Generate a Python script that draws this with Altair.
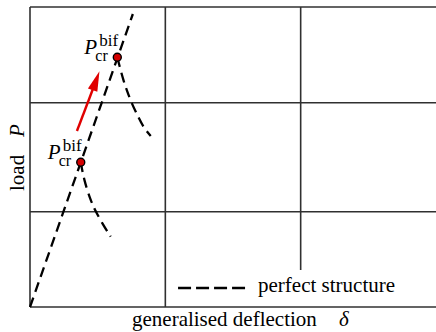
import altair as alt
import pandas as pd

# Primary equilibrium path of the perfect structure (deflection, load)
primary_x = [0.0, 0.76]
primary_y = [0.0, 2.93]

# Bifurcation points on the primary path
bif_x = [0.375, 0.645]
bif_y = [1.447, 2.497]

# Post-buckling branches leaving each bifurcation point
lower_x = [0.375, 0.399, 0.447, 0.480, 0.532, 0.596]
lower_y = [1.447, 1.270, 1.070, 0.970, 0.840, 0.703]
upper_x = [0.645, 0.660, 0.689, 0.715, 0.751, 0.800, 0.837, 0.892]
upper_y = [2.497, 2.420, 2.270, 2.170, 2.037, 1.900, 1.800, 1.710]

# Arrow showing the rise of the critical load
arrow_x = [0.347, 0.488]
arrow_y = [1.760, 2.263]

# Frame and grid lines (x, x2, y, y2)
frame_x = [0, 0, 0, 0, 0, 1, 2]
frame_x2 = [0, 3, 3, 3, 3, 1, 2]
frame_y = [0, 0, 0.953, 2.043, 3, 0, 0.37]
frame_y2 = [3, 0, 0.953, 2.043, 3, 3, 3]

# Legend entry
legend_x = [1.094, 1.589]
legend_y = [0.19]
legend_label = ["perfect structure"]

FONT = 'Liberation Serif, "Times New Roman", serif'
xs = alt.Scale(domain=[0, 3], nice=False, zero=False)
ys = alt.Scale(domain=[0, 3], nice=False, zero=False)

frame_df = pd.DataFrame({"x": frame_x, "x2": frame_x2, "y": frame_y, "y2": frame_y2})
frame = alt.Chart(frame_df).mark_rule(color="#303030", strokeWidth=1.6).encode(
    x=alt.X("x:Q", scale=xs, axis=None),
    x2="x2:Q",
    y=alt.Y("y:Q", scale=ys, axis=None),
    y2="y2:Q",
)

paths = pd.concat([
    pd.DataFrame({"x": primary_x, "y": primary_y, "path": "primary", "k": range(len(primary_x))}),
    pd.DataFrame({"x": lower_x, "y": lower_y, "path": "lower", "k": range(len(lower_x))}),
    pd.DataFrame({"x": upper_x, "y": upper_y, "path": "upper", "k": range(len(upper_x))}),
])
lines = alt.Chart(paths).mark_line(
    color="black", strokeWidth=2.3, strokeDash=[10, 6], interpolate="basis"
).encode(
    x=alt.X("x:Q", scale=xs),
    y=alt.Y("y:Q", scale=ys),
    detail="path:N",
    order="k:Q",
)

arrow_df = pd.DataFrame({"x": [arrow_x[0]], "x2": [arrow_x[1]], "y": [arrow_y[0]], "y2": [arrow_y[1]]})
shaft = alt.Chart(arrow_df).mark_rule(color="#e00000", strokeWidth=2.4).encode(
    x=alt.X("x:Q", scale=xs), x2="x2:Q", y=alt.Y("y:Q", scale=ys), y2="y2:Q"
)
head = alt.Chart(pd.DataFrame({"x": [arrow_x[1]], "y": [arrow_y[1]]})).mark_point(
    shape="M0,-1L0.5,1L-0.5,1Z", size=400, filled=True, color="#e00000", opacity=1, angle=20
).encode(x=alt.X("x:Q", scale=xs), y=alt.Y("y:Q", scale=ys))

bif_df = pd.DataFrame({"x": bif_x, "y": bif_y})
points = alt.Chart(bif_df).mark_point(
    shape="circle", size=64, filled=True, fill="#d40000", stroke="black", strokeWidth=1.4, opacity=1
).encode(x=alt.X("x:Q", scale=xs), y=alt.Y("y:Q", scale=ys))

base_lbl = alt.Chart(bif_df).encode(x=alt.X("x:Q", scale=xs), y=alt.Y("y:Q", scale=ys))
lbl_p = base_lbl.mark_text(text="P", font=FONT, fontSize=21, fontStyle="italic",
                           align="left", baseline="alphabetic", dx=-33, dy=-3)
lbl_sup = base_lbl.mark_text(text="bif", font=FONT, fontSize=17,
                             align="left", baseline="alphabetic", dx=-18, dy=-11)
lbl_sub = base_lbl.mark_text(text="cr", font=FONT, fontSize=16,
                             align="left", baseline="alphabetic", dx=-22, dy=4)

leg_line = alt.Chart(pd.DataFrame({"x": [legend_x[0]], "x2": [legend_x[1]], "y": legend_y})).mark_rule(
    color="black", strokeWidth=2.3, strokeDash=[13, 5]
).encode(x=alt.X("x:Q", scale=xs), x2="x2:Q", y=alt.Y("y:Q", scale=ys))
leg_text = alt.Chart(pd.DataFrame({"x": [1.685], "y": legend_y, "t": legend_label})).mark_text(
    font=FONT, fontSize=21, align="left", baseline="middle", dy=-2
).encode(x=alt.X("x:Q", scale=xs), y=alt.Y("y:Q", scale=ys), text="t:N")

# Axis titles, with italic symbols
xt = alt.Chart(pd.DataFrame({"t": ["generalised deflection"]})).mark_text(
    font=FONT, fontSize=21, align="left", baseline="alphabetic"
).encode(x=alt.value(102), y=alt.value(319), text="t:N")
xd = alt.Chart(pd.DataFrame({"t": ["δ"]})).mark_text(
    font=FONT, fontSize=21, fontStyle="italic", align="left", baseline="alphabetic"
).encode(x=alt.value(309), y=alt.value(319), text="t:N")
yt = alt.Chart(pd.DataFrame({"t": ["load"]})).mark_text(
    font=FONT, fontSize=21, align="left", baseline="alphabetic", angle=270
).encode(x=alt.value(-6), y=alt.value(184), text="t:N")
yp = alt.Chart(pd.DataFrame({"t": ["P"]})).mark_text(
    font=FONT, fontSize=21, fontStyle="italic", align="left", baseline="alphabetic", angle=270
).encode(x=alt.value(-6), y=alt.value(130), text="t:N")

chart = alt.layer(
    frame, lines, shaft, head, points, lbl_p, lbl_sup, lbl_sub, leg_line, leg_text, xt, xd, yt, yp
).properties(
    width=406, height=300,
    autosize=alt.AutoSizeParams(type="none"),
    padding={"left": 30, "top": 7, "right": 0, "bottom": 25},
    background="white",
).configure_view(stroke=None)

chart.save("out.html", embed_options={"renderer": "svg", "actions": False})
